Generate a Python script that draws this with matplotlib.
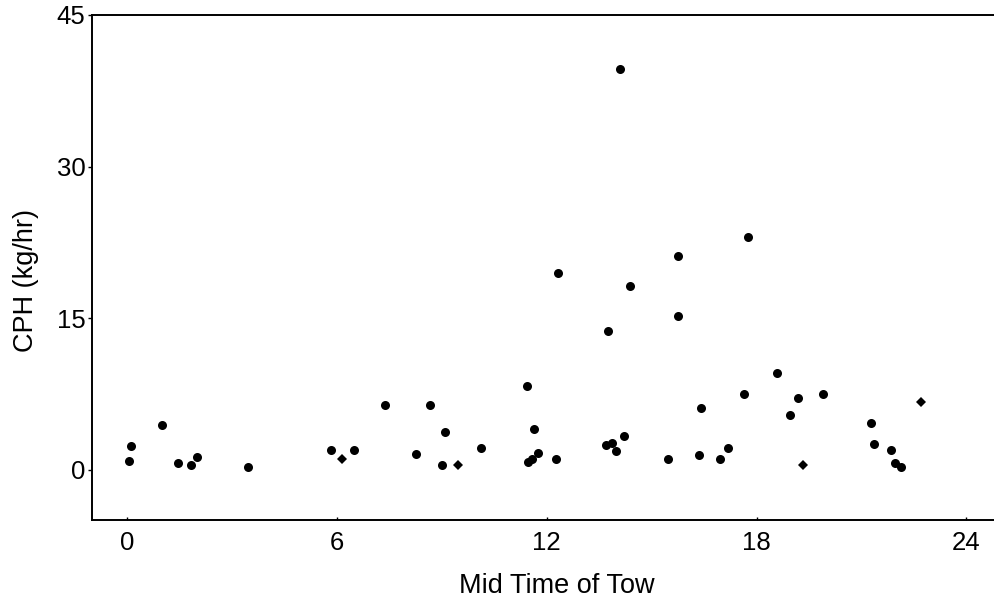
import matplotlib
matplotlib.use("Agg")
import matplotlib.pyplot as plt

plt.rcParams['font.family'] = ['Liberation Sans', 'DejaVu Sans']

# Mid time of tow (hours) and catch per hour (kg/hr)
circle_x = [0.04, 0.10, 0.98, 1.45, 1.81, 1.99, 3.46, 5.83, 6.48, 7.36,
            8.25, 8.66, 9.08, 9.01, 10.13, 11.44, 11.62, 11.45, 11.58, 11.74,
            12.27, 12.33, 13.69, 13.86, 13.98, 14.22, 13.74, 14.09, 14.39, 15.46,
            15.75, 15.75, 16.36, 16.40, 16.94, 17.18, 17.65, 17.76, 18.59, 18.95,
            19.18, 19.89, 21.26, 21.37, 21.84, 21.97, 22.14]
circle_y = [0.87, 2.36, 4.40, 0.67, 0.47, 1.24, 0.31, 1.96, 1.96, 6.41,
            1.59, 6.41, 3.77, 0.47, 2.11, 8.24, 4.07, 0.80, 1.10, 1.64,
            1.07, 19.50, 2.41, 2.61, 1.81, 3.32, 13.76, 39.63, 18.19, 1.07,
            21.16, 15.25, 1.47, 6.15, 1.07, 2.18, 7.47, 23.01, 9.55, 5.41,
            7.09, 7.47, 4.64, 2.55, 1.98, 0.69, 0.29]

diamond_x = [6.15, 9.45, 19.33, 22.70]
diamond_y = [1.04, 0.47, 0.49, 6.73]

x_ticks = [0, 6, 12, 18, 24]
y_ticks = [0, 15, 30, 45]

W, H = 994, 606
fig = plt.figure(figsize=(W / 100, H / 100), dpi=100)
left, right, bottom, top = 92.3, 1001.3, 520.3, 15.0
ax = fig.add_axes([left / W, (H - bottom) / H, (right - left) / W, (bottom - top) / H])

ax.plot(circle_x, circle_y, linestyle='none', marker='o', markersize=6.5,
        color='black', markeredgewidth=0)
ax.plot(diamond_x, diamond_y, linestyle='none', marker='D', markersize=5.3,
        color='black', markeredgewidth=0)

ax.set_xlim(-1, 25)
ax.set_ylim(-5, 45)
ax.set_xticks(x_ticks)
ax.set_yticks(y_ticks)
ax.set_xticklabels([str(v) for v in x_ticks])
ax.set_yticklabels([str(v) for v in y_ticks])

for s in ax.spines.values():
    s.set_linewidth(1.4)
    s.set_color('black')

ax.tick_params(axis='y', direction='out', length=3, width=1, pad=2, labelsize=18.5)
ax.tick_params(axis='x', direction='in', length=2.5, width=1, pad=8, labelsize=18.5)

ax.set_xlabel('Mid Time of Tow', fontsize=19.5, labelpad=13)
ax.set_ylabel('CPH (kg/hr)', fontsize=19.5, labelpad=12.5)
ax.xaxis.label.set_x((556.5 - left) / (right - left))
ax.yaxis.label.set_y((bottom - 280.0) / (bottom - top))

fig.savefig('out.png', dpi=100)
